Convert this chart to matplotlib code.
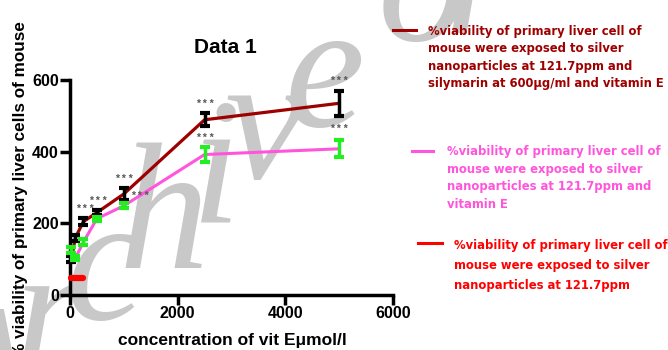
import matplotlib
matplotlib.use('Agg')
import matplotlib.pyplot as plt
from matplotlib.lines import Line2D
from matplotlib import font_manager
from matplotlib.font_manager import FontProperties, findfont
from matplotlib.textpath import text_to_path

# ---------------- data ----------------
conc = [25, 100, 250, 500, 1000, 2500, 5000]
ag_sil_vitE = [100, 160, 205, 230, 282, 489, 535]
ag_sil_vitE_err = [8, 8, 9, 7, 17, 18, 35]
ag_vitE = [125, 103, 148, 213, 249, 392, 408]
ag_vitE_err = [8, 5, 8, 6, 7, 22, 24]
ag_conc = [25, 250]
ag_only = [47, 47]

star_label = '* * *'
stars_x = [270, 520, 1000, 2500, 5000, 1300, 2500, 5000]
stars_y = [240, 263, 324, 533, 596, 277, 438, 464]

xticks = [0, 2000, 4000, 6000]
yticks = [0, 200, 400, 600]

title = 'Data 1'
xlabel = 'concentration of vit E\u03bcmol/l'
ylabel = '% viability of primary liver cells of mouse'
leg1 = '%viability of primary liver cell of\nmouse were exposed to silver\nnanoparticles at 121.7ppm and\nsilymarin at 600\u03bcg/ml and vitamin E'
leg2 = '%viability of primary liver cell of\nmouse were exposed to silver\nnanoparticles at 121.7ppm and\nvitamin E'
leg3 = '%viability of primary liver cell of\nmouse were exposed to silver\nnanoparticles at 121.7ppm'
watermark = 'Archive of SID'

DARK = '#9e0000'
PINK = '#ff55dd'
GREEN = '#22ee22'
RED = '#ff0000'


def pick(names):
    for n in names:
        try:
            findfont(FontProperties(family=n), fallback_to_default=False)
            return n
        except Exception:
            pass
    return 'DejaVu Sans'


def narrow_bold():
    files = list(font_manager.fontManager.ttflist)
    prefs = ['LiberationSansNarrow-Bold.', 'ArialNarrow', 'DejaVuSansCondensed-Bold.',
             'OpenSans_Condensed-Bold', 'OpenSansCondensed-Bold', 'Roboto_Condensed-Bold',
             'RobotoCondensed-Bold', 'NotoSans-CondensedBold']
    for p in prefs:
        for f in files:
            if p.lower() in f.fname.replace(' ', '').lower():
                return FontProperties(fname=f.fname)
    return FontProperties(family=pick(['Liberation Sans', 'DejaVu Sans']), weight='bold')


SANS = pick(['Liberation Sans', 'Arial', 'DejaVu Sans'])
SERIF = pick(['Liberation Serif', 'DejaVu Serif'])
NARROW_FP = narrow_bold()

W, H = 668, 350
fig = plt.figure(figsize=(W / 100, H / 100), dpi=100)
renderer = fig.canvas.get_renderer()

# ---------------- watermark (real text, letters along a diagonal) ----------------
wm_fp = FontProperties(family=SERIF, style='italic', size=1)
EM = 135.0            # horizontal advance per em, pixels
SLOPE = 0.88          # rise of the diagonal per pixel
anchor_k = watermark.index('v')
anchor_xy = (265.0, 215.0)   # centre of the 'v' in display pixels


def em_w(s):
    return text_to_path.get_text_width_height_descent(s, wm_fp, ismath=False)[0] if s else 0.0


cx_anchor = EM * (em_w(watermark[:anchor_k]) + 0.5 * em_w(watermark[anchor_k]))
for k, ch in enumerate(watermark):
    if ch == ' ':
        continue
    cx = EM * (em_w(watermark[:k]) + 0.5 * em_w(ch)) - cx_anchor + anchor_xy[0]
    cy = anchor_xy[1] + SLOPE * (cx - anchor_xy[0])
    fig.text(cx / W, cy / H, ch, ha='center', va='center', fontsize=130, color='#c8c8c8',
             family=SERIF, style='italic', zorder=-5)

# ---------------- axes ----------------
ax = fig.add_axes([70 / W, 1 - 295 / H, (393 - 70) / W, (295 - 80) / H])
ax.patch.set_alpha(0)

ax.plot(conc, ag_sil_vitE, color=DARK, lw=2.3, zorder=3, clip_on=False)
ax.plot(conc, ag_vitE, color=PINK, lw=2.2, zorder=3, clip_on=False)
ax.plot(ag_conc, ag_only, color=RED, lw=4.5, solid_capstyle='round', zorder=3, clip_on=False)

ax.errorbar(conc, ag_sil_vitE, yerr=ag_sil_vitE_err, fmt='none', ecolor='black',
            elinewidth=2.5, capsize=3.5, capthick=3, zorder=4, clip_on=False)
ax.errorbar(conc, ag_vitE, yerr=ag_vitE_err, fmt='none', ecolor=GREEN,
            elinewidth=2.5, capsize=3.5, capthick=3, zorder=4, clip_on=False)

for sxx, syy in zip(stars_x, stars_y):
    ax.text(sxx, syy, star_label, fontsize=7.5, fontweight='bold', color='#555555',
            ha='center', va='center', family=SANS, zorder=5)

ax.set_xlim(0, 6000)
ax.set_ylim(0, 600)
ax.set_xticks(xticks)
ax.set_yticks(yticks)
for s in ['top', 'right']:
    ax.spines[s].set_visible(False)
for s in ['left', 'bottom']:
    ax.spines[s].set_linewidth(2.5)
ax.tick_params(axis='both', direction='out', length=7, width=2.5, labelsize=11.5, pad=1)
for lab in ax.get_xticklabels() + ax.get_yticklabels():
    lab.set_fontweight('bold')
    lab.set_family(SANS)

ax.text(0.48, 1.153, title, transform=ax.transAxes, ha='center', va='center',
        fontsize=15, fontweight='bold', family=SANS)

fig.text(232 / W, 1 - 340 / H, xlabel, ha='center', va='center', fontsize=12.5,
         fontweight='bold', family=SANS)
fig.text(21 / W, 1 - 190 / H, ylabel, ha='center', va='center', rotation=90,
         fontsize=12.3, fontweight='bold', family=SANS)


# ---------------- legend (manual) ----------------
def entry(x1, x2, yl, xt, yb_last, text, color, spacing, width=211):
    fig.add_artist(Line2D([x1 / W, x2 / W], [1 - yl / H, 1 - yl / H], color=color, lw=2.2,
                          transform=fig.transFigure))
    fp = NARROW_FP.copy()
    fp.set_size(10)
    first = text.split('\n')[0]
    t = fig.text(0, 0, first, fontproperties=fp)
    w = t.get_window_extent(renderer).width
    t.remove()
    fp.set_size(10 * width / w)
    _, lh, ld = renderer.get_text_width_height_descent('lp', fp, ismath=False)
    ls = 0.86 * spacing / (lh - ld)
    fig.text(xt / W, 1 - yb_last / H, text, ha='left', va='baseline', color=color,
             fontproperties=fp, linespacing=ls)


entry(393, 416, 30, 428, 87, leg1, DARK, 16.7)
entry(412, 433, 151, 447, 208, leg2, PINK, 17.0)
entry(418, 442, 243, 454, 289, leg3, RED, 20.0)

fig.savefig('out.png', dpi=100)
